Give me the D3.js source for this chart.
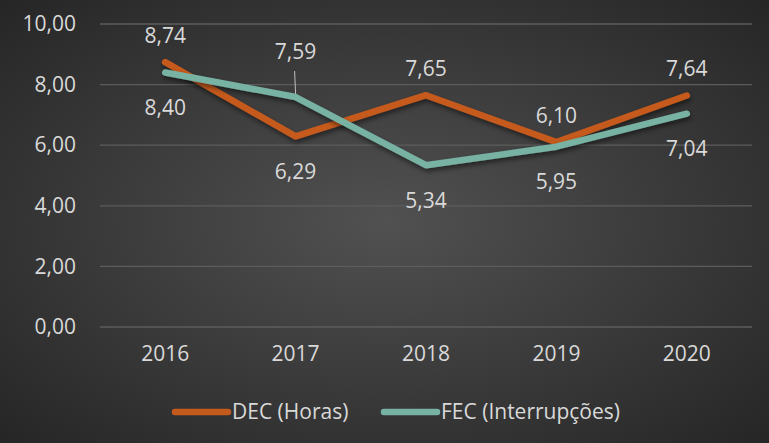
<!DOCTYPE html>
<html>
<head>
<meta charset="utf-8">
<script src="https://cdn.jsdelivr.net/npm/d3@7"></script>
<style>
  body { margin: 0; background: #333; }
  svg { display: block; }
  svg text { font-family: "Open Sans", sans-serif; font-size: 21px; }
</style>
</head>
<body>
<script>
// chart data
var years = ["2016", "2017", "2018", "2019", "2020"];
var decValues = [8.74, 6.29, 7.65, 6.10, 7.64];
var fecValues = [8.40, 7.59, 5.34, 5.95, 7.04];
var yTicks = [0, 2, 4, 6, 8, 10];
var seriesNames = ["DEC (Horas)", "FEC (Interrupções)"];
// where each data label sits relative to its point
var decLabelPos = ["above", "below", "above", "above", "above"];
var fecLabelPos = ["below", "leader", "below", "below", "below"];

var width = 769,
    height = 443;
var margin = { top: 24, right: 17, bottom: 116, left: 100 };

var svg = d3.select("body")
    .append("svg")
    .attr("width", width)
    .attr("height", height);

// background: dark radial gradient
var defs = svg.append("defs");
var grad = defs.append("radialGradient")
    .attr("id", "bg")
    .attr("cx", "50%").attr("cy", "50%").attr("r", "70%");
grad.append("stop").attr("offset", "0%").attr("stop-color", "#515151");
grad.append("stop").attr("offset", "100%").attr("stop-color", "#262626");

var shadow = defs.append("filter")
    .attr("id", "shadow")
    .attr("x", "-10%").attr("y", "-10%")
    .attr("width", "120%").attr("height", "130%");
shadow.append("feDropShadow")
    .attr("dx", 1).attr("dy", 3)
    .attr("stdDeviation", 2.5)
    .attr("flood-color", "#000")
    .attr("flood-opacity", 0.5);

svg.append("rect")
    .attr("width", width)
    .attr("height", height)
    .attr("fill", "url(#bg)");

var x = d3.scaleBand()
    .domain(years)
    .range([margin.left, width - margin.right]);

var y = d3.scaleLinear()
    .domain([0, 10])
    .range([height - margin.bottom, margin.top]);

var fmt = function(v) { return d3.format(".2f")(v).replace(".", ","); };
var textColor = "#d9d9d9";

// gridlines
svg.append("g")
    .selectAll("line")
    .data(yTicks)
    .enter()
    .append("line")
    .attr("x1", margin.left)
    .attr("x2", width - margin.right)
    .attr("y1", function(d) { return y(d); })
    .attr("y2", function(d) { return y(d); })
    .attr("stroke", "#5c5c5c")
    .attr("stroke-width", 1.3);

// y axis labels
var yAxis = d3.axisLeft(y)
    .tickValues(yTicks)
    .tickFormat(fmt)
    .tickSize(0)
    .tickPadding(24);
var gy = svg.append("g")
    .attr("transform", "translate(" + margin.left + ",0)")
    .call(yAxis);
gy.select(".domain").remove();
gy.selectAll("text")
    .attr("fill", textColor);

// x axis labels
var xAxis = d3.axisBottom(x)
    .tickSize(0)
    .tickPadding(19);
var gx = svg.append("g")
    .attr("transform", "translate(0," + y(0) + ")")
    .call(xAxis);
gx.select(".domain").remove();
gx.selectAll("text")
    .attr("fill", textColor);

var line = d3.line()
    .x(function(d, i) { return x(years[i]) + x.bandwidth() / 2; })
    .y(function(d) { return y(d); });

var series = [
    { name: seriesNames[0], values: decValues, color: "#c55a1d", pos: decLabelPos },
    { name: seriesNames[1], values: fecValues, color: "#78b2a3", pos: fecLabelPos }
];

series.forEach(function(s) {
    svg.append("path")
        .datum(s.values)
        .attr("d", line)
        .attr("fill", "none")
        .attr("stroke", s.color)
        .attr("stroke-width", 6.5)
        .attr("stroke-linecap", "round")
        .attr("stroke-linejoin", "round")
        .attr("filter", "url(#shadow)");
});

// data labels
series.forEach(function(s) {
    s.values.forEach(function(v, i) {
        var cx = x(years[i]) + x.bandwidth() / 2,
            cy = y(v),
            ty;
        if (s.pos[i] === "above") ty = cy - 27;
        else if (s.pos[i] === "below") ty = cy + 35;
        else {
            ty = cy - 45;
            svg.append("line")
                .attr("x1", cx - 1).attr("x2", cx)
                .attr("y1", cy - 26).attr("y2", cy - 3)
                .attr("stroke", "#bfbfbf")
                .attr("stroke-width", 1);
        }
        svg.append("text")
            .attr("x", cx)
            .attr("y", ty)
            .attr("dy", "0.35em")
            .attr("text-anchor", "middle")
            .attr("fill", textColor)
            .text(fmt(v));
    });
});

// legend
var legendY = 412;
var legendItems = [
    { x: 175, color: series[0].color, name: seriesNames[0] },
    { x: 384, color: series[1].color, name: seriesNames[1] }
];
legendItems.forEach(function(item) {
    svg.append("line")
        .attr("x1", item.x).attr("x2", item.x + 53)
        .attr("y1", legendY).attr("y2", legendY)
        .attr("stroke", item.color)
        .attr("stroke-width", 6.5)
        .attr("stroke-linecap", "round");
    svg.append("text")
        .attr("x", item.x + 57)
        .attr("y", legendY)
        .attr("dy", "0.35em")
        .attr("fill", textColor)
        .text(item.name);
});
</script>
</body>
</html>
